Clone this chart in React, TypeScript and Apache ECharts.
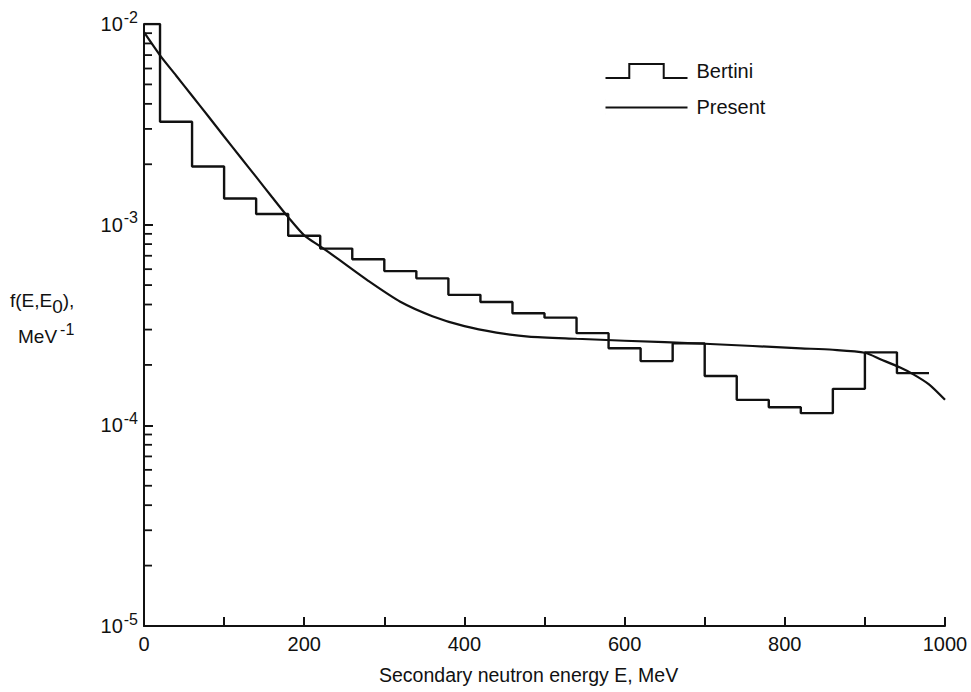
import React, { useEffect, useRef } from "react";
import * as echarts from "echarts";

// Bertini histogram: bin edges (MeV) and bin values (MeV^-1)
const bertiniEdges = [0, 20, 60, 100, 140, 180, 220, 260, 300, 340, 380, 420, 460, 500, 540, 580, 620, 660, 700, 740, 780, 820, 860, 900, 940, 980];
const bertiniValues = [
  1.0e-2, 3.26e-3, 1.95e-3, 1.35e-3, 1.13e-3, 8.8e-4, 7.6e-4, 6.73e-4, 5.87e-4, 5.4e-4,
  4.47e-4, 4.12e-4, 3.62e-4, 3.44e-4, 2.88e-4, 2.42e-4, 2.09e-4, 2.56e-4, 1.76e-4, 1.34e-4,
  1.23e-4, 1.15e-4, 1.52e-4, 2.31e-4, 1.82e-4,
];

// Present calculation curve
const presentE = [0, 20, 40, 60, 80, 100, 120, 140, 160, 180, 200, 220, 240, 280, 320, 360, 400, 440, 480, 540, 600, 700, 820, 860, 900, 920, 944, 960, 980, 1000];
const presentV = [
  9.1e-3, 6.98e-3, 5.54e-3, 4.39e-3, 3.48e-3, 2.75e-3, 2.18e-3, 1.73e-3, 1.37e-3, 1.09e-3,
  8.85e-4, 7.8e-4, 6.85e-4, 5.25e-4, 4.13e-4, 3.5e-4, 3.12e-4, 2.9e-4, 2.77e-4, 2.7e-4,
  2.64e-4, 2.55e-4, 2.42e-4, 2.38e-4, 2.3e-4, 2.13e-4, 1.94e-4, 1.8e-4, 1.6e-4, 1.34e-4,
];

// Axis structure
const xMin = 0;
const xMax = 1000;
const xTickStep = 100;
const xLabelStep = 200;
const yMin = 1e-5;
const yMax = 1e-2;
const decades = [1e-5, 1e-4, 1e-3];
const minorMantissas = [2, 3, 4, 5, 6, 7, 8, 9];

const FONT = "'Liberation Sans', Arial, Helvetica, sans-serif";
const INK = "#111";

export default function App() {
  const ref = useRef<HTMLDivElement>(null);

  useEffect(() => {
    if (!ref.current) return;
    const chart = echarts.init(ref.current, undefined, { renderer: "svg" });

    const bertiniData: number[][] = [];
    bertiniValues.forEach((v, i) => {
      bertiniData.push([bertiniEdges[i], v]);
      bertiniData.push([bertiniEdges[i + 1], v]);
    });
    const presentData = presentE.map((e, i) => [e, presentV[i]]);
    const minorY: number[][] = [];
    decades.forEach((d) => minorMantissas.forEach((m) => minorY.push([0, m * d])));

    chart.setOption({
      animation: false,
      backgroundColor: "#fff",
      textStyle: { fontFamily: FONT, color: INK },
      grid: { left: 144, right: 26, top: 24, bottom: 66, containLabel: false, outerBoundsMode: "none" },
      legend: {
        orient: "vertical",
        left: 598,
        top: 56,
        itemWidth: 82,
        itemHeight: 17,
        itemGap: 16,
        selectedMode: false,
        textStyle: { fontFamily: FONT, fontSize: 20, color: INK, padding: [0, 0, 0, 4] },
        data: [
          {
            name: "Bertini",
            icon: "path://M0,17L29,17L29,0L71,0L71,17L100,17",
            itemStyle: { color: "none", borderColor: INK, borderWidth: 2 },
          },
          {
            name: "Present",
            icon: "path://M0,0L0.01,0M0,9L100,9M0,17L0.01,17",
            itemStyle: { color: "none", borderColor: INK, borderWidth: 2 },
          },
        ],
      },
      xAxis: {
        type: "value",
        min: xMin,
        max: xMax,
        interval: xTickStep,
        splitLine: { show: false },
        axisLine: { lineStyle: { color: INK, width: 2 } },
        axisTick: { inside: true, length: 9, lineStyle: { color: INK, width: 2 } },
        axisLabel: {
          fontFamily: FONT,
          fontSize: 20,
          color: INK,
          margin: 8,
          formatter: (v: number) => (v % xLabelStep === 0 ? String(v) : ""),
        },
      },
      yAxis: {
        type: "log",
        logBase: 10,
        min: yMin,
        max: yMax,
        splitLine: { show: false },
        axisLine: { lineStyle: { color: INK, width: 2 } },
        axisTick: { inside: true, length: 9, lineStyle: { color: INK, width: 2 } },
        axisLabel: {
          margin: 6,
          formatter: (v: number) => `{b|10}{s|${Math.round(Math.log10(v))}}`,
          rich: {
            b: { fontFamily: FONT, fontSize: 20, color: INK },
            s: { fontFamily: FONT, fontSize: 16, color: INK, padding: [0, 0, 14, 1] },
          },
        },
      },
      series: [
        {
          name: "Bertini",
          type: "line",
          data: bertiniData,
          symbol: "none",
          lineStyle: { color: INK, width: 2.4 },
          itemStyle: { color: INK },
        },
        {
          name: "Present",
          type: "line",
          data: presentData,
          symbol: "none",
          smooth: 0.25,
          lineStyle: { color: INK, width: 2.2 },
          itemStyle: { color: INK },
        },
        {
          name: "minorTicks",
          type: "custom",
          silent: true,
          data: minorY,
          renderItem: (params: any, api: any) => {
            const p = api.coord([api.value(0), api.value(1)]);
            return {
              type: "line",
              shape: { x1: p[0], y1: p[1], x2: p[0] + 8, y2: p[1] },
              style: { stroke: INK, lineWidth: 1.8 },
            };
          },
        },
      ],
      graphic: [
        {
          type: "text",
          left: 10,
          top: 291,
          style: {
            text: "{m|f(E,E}{sub|0}{m|),}",
            rich: {
              m: { fontFamily: FONT, fontSize: 19, fill: INK },
              sub: { fontFamily: FONT, fontSize: 19, fill: INK, padding: [12, 0, 0, 0] },
            },
          },
        },
        {
          type: "text",
          left: 18,
          top: 321,
          style: {
            text: "{m|MeV}{s|-1}",
            rich: {
              m: { fontFamily: FONT, fontSize: 19, fill: INK },
              s: { fontFamily: FONT, fontSize: 16, fill: INK, padding: [0, 0, 14, 3] },
            },
          },
        },
        {
          type: "text",
          left: 379,
          top: 665,
          style: {
            text: "Secondary neutron energy E, MeV",
            fontFamily: FONT,
            fontSize: 19.5,
            fill: INK,
          },
        },
      ],
    });

    return () => chart.dispose();
  }, []);

  return (
    <div
      ref={ref}
      style={{ position: "fixed", left: 0, top: 0, width: 971, height: 692, background: "#fff" }}
    />
  );
}
